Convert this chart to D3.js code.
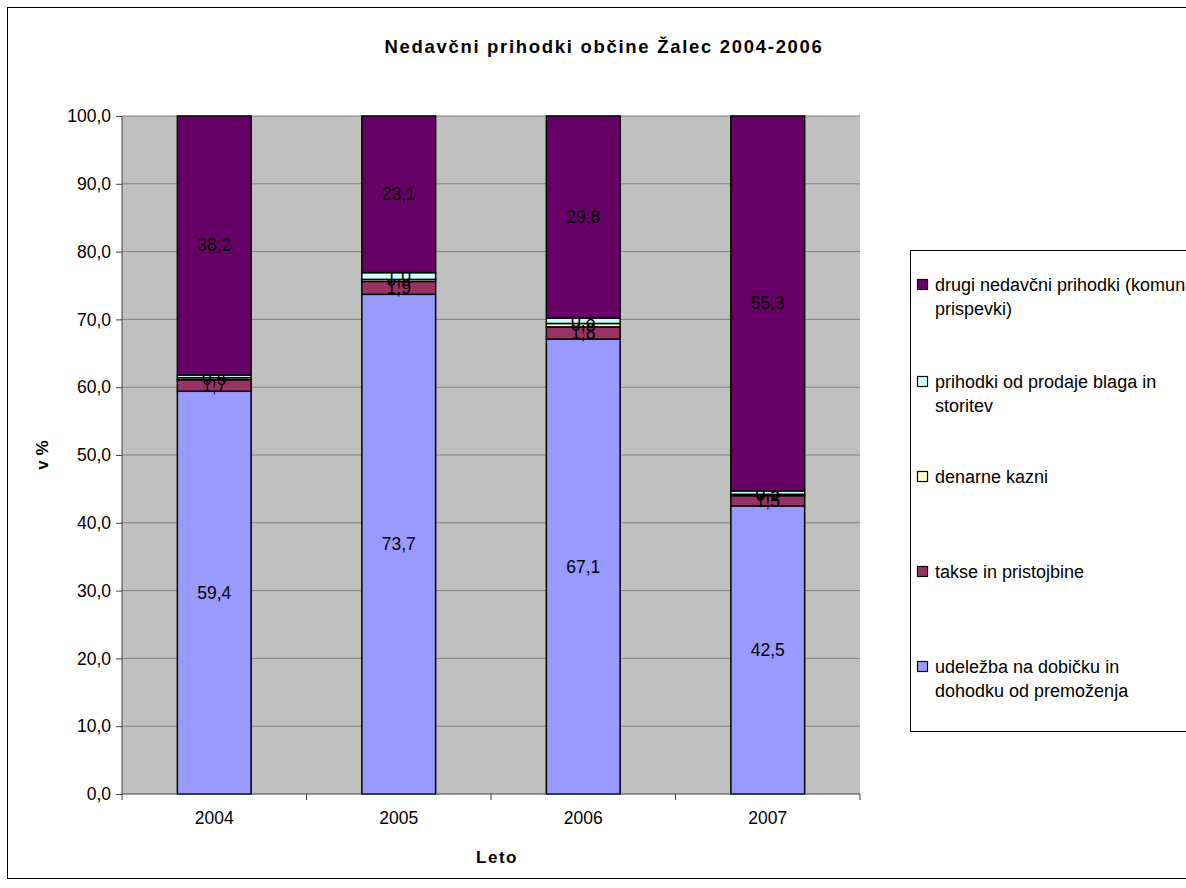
<!DOCTYPE html>
<html>
<head>
<meta charset="utf-8">
<script src="https://cdn.jsdelivr.net/npm/d3@7"></script>
<style>
  body { margin: 0; background: #fff; }
  text { font-family: "Liberation Sans", Arial, sans-serif; }
</style>
</head>
<body>
<div id="container"></div>
<script>
// data
var years = ["2004", "2005", "2006", "2007"];
var udelezba = [59.4, 73.7, 67.1, 42.5];
var takse = [1.7, 1.9, 1.8, 1.5];
var kazni = [0.3, 0.3, 0.5, 0.2];
var prodaja = [0.4, 1.0, 0.8, 0.5];
var drugi = [38.2, 23.1, 29.8, 55.3];
var yTicks = [0, 10, 20, 30, 40, 50, 60, 70, 80, 90, 100];
var colors = ["#9999FF", "#993366", "#FFFFCC", "#CCFFFF", "#660066"];
// legend labels as wrapped in the picture (top to bottom)
var legendLines = [
    ["drugi nedavčni prihodki (komunalni", "prispevki)"],
    ["prihodki od prodaje blaga in", "storitev"],
    ["denarne kazni"],
    ["takse in pristojbine"],
    ["udeležba na dobičku in", "dohodku od premoženja"]
];

var canvasX = 1186;
var canvasY = 888;
var plot = {left: 122, right: 860, top: 116, bottom: 794};
var fontSize = "17.5px";

var svg = d3.select("#container")
            .append("svg")
            .attr("width", canvasX)
            .attr("height", canvasY);

// outer chart border
svg.append("rect")
   .attr("x", 7.5).attr("y", 7.5)
   .attr("width", 1200).attr("height", 871)
   .attr("fill", "#fff")
   .attr("stroke", "#000")
   .attr("stroke-width", 1);

// scales
var xScale = d3.scaleBand()
               .domain(years)
               .range([plot.left, plot.right])
               .paddingInner(0.6)
               .paddingOuter(0.3);
var xOuter = d3.scaleBand()
               .domain(years)
               .range([plot.left, plot.right]);
var yScale = d3.scaleLinear()
               .domain([0, 100])
               .range([plot.bottom, plot.top]);

// plot background
svg.append("rect")
   .attr("x", plot.left).attr("y", plot.top)
   .attr("width", plot.right - plot.left)
   .attr("height", plot.bottom - plot.top)
   .attr("fill", "#C0C0C0");

// gridlines
svg.append("g")
   .selectAll("line")
   .data(yTicks.slice(1))
   .enter()
   .append("line")
   .attr("x1", plot.left).attr("x2", plot.right)
   .attr("y1", function(d) { return yScale(d); })
   .attr("y2", function(d) { return yScale(d); })
   .attr("stroke", "#808080")
   .attr("stroke-width", 1);

// stack the data
var table = years.map(function(y, i) {
    return {year: y, s0: udelezba[i], s1: takse[i], s2: kazni[i], s3: prodaja[i], s4: drugi[i]};
});
var stack = d3.stack().keys(["s0", "s1", "s2", "s3", "s4"])(table);

var layers = svg.append("g")
                .selectAll("g")
                .data(stack)
                .enter()
                .append("g")
                .attr("fill", function(d, i) { return colors[i]; });

layers.selectAll("rect")
      .data(function(d) { return d; })
      .enter()
      .append("rect")
      .attr("x", function(d) { return xScale(d.data.year); })
      .attr("y", function(d) { return yScale(d[1]); })
      .attr("width", xScale.bandwidth())
      .attr("height", function(d) { return yScale(d[0]) - yScale(d[1]); })
      .attr("stroke", "#000")
      .attr("stroke-width", 1.5);

// value labels
layers.selectAll("text")
      .data(function(d) { return d; })
      .enter()
      .append("text")
      .attr("x", function(d) { return xScale(d.data.year) + xScale.bandwidth() / 2; })
      .attr("y", function(d) { return (yScale(d[0]) + yScale(d[1])) / 2 + 6; })
      .attr("text-anchor", "middle")
      .attr("font-size", fontSize)
      .attr("fill", "#000")
      .text(function(d) { return (d[1] - d[0]).toFixed(1).replace(".", ","); });

// y axis
var yAxis = d3.axisLeft(yScale)
              .tickValues(yTicks)
              .tickSize(6)
              .tickFormat(function(d) { return d.toFixed(1).replace(".", ","); });
var gy = svg.append("g")
            .attr("transform", "translate(" + plot.left + ",0)")
            .call(yAxis);
gy.select(".domain").attr("stroke", "#404040").attr("d", "M0," + plot.top + "V" + plot.bottom);
gy.selectAll(".tick line").attr("stroke", "#404040");
gy.selectAll(".tick text")
  .attr("font-family", "Liberation Sans, Arial, sans-serif")
  .attr("font-size", fontSize)
  .attr("fill", "#000")
  .attr("x", -11);

// x axis
var xAxis = d3.axisBottom(xOuter).tickSize(0).tickPadding(18);
var gx = svg.append("g")
            .attr("transform", "translate(0," + plot.bottom + ")")
            .call(xAxis);
gx.select(".domain").attr("stroke", "#404040").attr("d", "M" + plot.left + ",0H" + plot.right);
gx.selectAll(".tick text")
  .attr("font-family", "Liberation Sans, Arial, sans-serif")
  .attr("font-size", fontSize)
  .attr("fill", "#000");
// tick marks between categories
gx.selectAll(".sep")
  .data(years.concat(["end"]))
  .enter()
  .append("line")
  .attr("class", "sep")
  .attr("x1", function(d, i) { return i < years.length ? xOuter(d) : plot.right; })
  .attr("x2", function(d, i) { return i < years.length ? xOuter(d) : plot.right; })
  .attr("y1", 0).attr("y2", 6)
  .attr("stroke", "#404040");

// title and axis labels
svg.append("text")
   .attr("x", 604).attr("y", 53)
   .attr("text-anchor", "middle")
   .attr("font-size", "18.5px")
   .attr("font-weight", "bold")
   .attr("letter-spacing", "1.7px")
   .text("Nedavčni prihodki občine Žalec 2004-2006");

svg.append("text")
   .attr("x", 497).attr("y", 863)
   .attr("text-anchor", "middle")
   .attr("font-size", "17px")
   .attr("font-weight", "bold")
   .attr("letter-spacing", "1.5px")
   .text("Leto");

svg.append("text")
   .attr("transform", "translate(48,455) rotate(-90)")
   .attr("text-anchor", "middle")
   .attr("font-size", "17px")
   .attr("font-weight", "bold")
   .text("v %");

// legend
svg.append("rect")
   .attr("x", 910.5).attr("y", 250.5)
   .attr("width", 300).attr("height", 481)
   .attr("fill", "#fff")
   .attr("stroke", "#000")
   .attr("stroke-width", 1);

var legendY = [285, 382, 477, 572, 667];
var legendColors = colors.slice().reverse();
var legend = svg.append("g")
                .selectAll("g")
                .data(legendLines)
                .enter()
                .append("g")
                .attr("transform", function(d, i) { return "translate(0," + legendY[i] + ")"; });

legend.append("rect")
      .attr("x", 917.5).attr("y", -5.5)
      .attr("width", 10).attr("height", 10)
      .attr("fill", function(d, i) { return legendColors[i]; })
      .attr("stroke", "#000")
      .attr("stroke-width", 1.2);

legend.selectAll("text")
      .data(function(d) { return d; })
      .enter()
      .append("text")
      .attr("x", 935)
      .attr("y", function(d, i) { return 6 + i * 24; })
      .attr("font-size", "18px")
      .attr("fill", "#000")
      .text(function(d) { return d; });
</script>
</body>
</html>
